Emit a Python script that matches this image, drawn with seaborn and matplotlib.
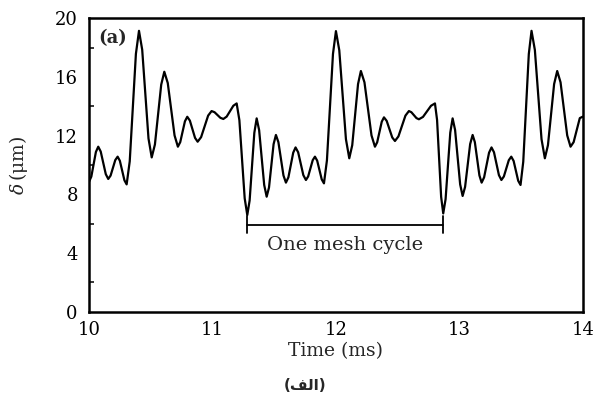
import matplotlib
matplotlib.use("Agg")
import matplotlib.pyplot as plt
from matplotlib.ticker import MultipleLocator
import seaborn as sns
import pandas as pd

# Values (time in ms, deflection in um)
time_ms = [10.000, 10.019, 10.056, 10.075, 10.095, 10.136, 10.156, 10.175, 10.213,
           10.232, 10.250, 10.287, 10.305, 10.330, 10.380, 10.405, 10.431, 10.482,
           10.508, 10.534, 10.585, 10.610, 10.638, 10.693, 10.720, 10.739, 10.777,
           10.796, 10.817, 10.859, 10.880, 10.908, 10.965, 10.993, 11.017, 11.064,
           11.088, 11.115, 11.169, 11.196, 11.218, 11.261, 11.282, 11.301, 11.339,
           11.358, 11.378, 11.419, 11.439, 11.458, 11.495, 11.514, 11.534, 11.575,
           11.595, 11.615, 11.654, 11.673, 11.694, 11.736, 11.757, 11.775, 11.812,
           11.830, 11.848, 11.885, 11.903, 11.927, 11.976, 12.000, 12.027, 12.081,
           12.108, 12.132, 12.179, 12.202, 12.231, 12.288, 12.316, 12.334, 12.371,
           12.389, 12.411, 12.456, 12.478, 12.506, 12.563, 12.591, 12.611, 12.652,
           12.672, 12.705, 12.770, 12.802, 12.819, 12.852, 12.869, 12.888, 12.926,
           12.945, 12.965, 13.006, 13.026, 13.046, 13.087, 13.107, 13.125, 13.162,
           13.180, 13.200, 13.240, 13.260, 13.280, 13.320, 13.340, 13.360, 13.400,
           13.420, 13.439, 13.476, 13.495, 13.517, 13.562, 13.584, 13.611, 13.665,
           13.692, 13.717, 13.767, 13.792, 13.819, 13.873, 13.900, 13.925, 13.975,
           14.000]
delta_um = [8.85, 9.21, 10.89, 11.25, 10.92, 9.38, 9.05, 9.28, 10.34,
            10.57, 10.29, 8.96, 8.68, 10.25, 17.58, 19.15, 17.86, 11.81,
            10.52, 11.40, 15.48, 16.36, 15.59, 12.02, 11.25, 11.56, 12.98,
            13.29, 13.03, 11.85, 11.59, 11.90, 13.37, 13.68, 13.60, 13.22,
            13.14, 13.30, 14.04, 14.20, 13.06, 7.73, 6.59, 7.58, 12.19,
            13.18, 12.38, 8.64, 7.84, 8.47, 11.42, 12.05, 11.56, 9.29,
            8.80, 9.16, 10.84, 11.20, 10.87, 9.31, 8.98, 9.22, 10.33,
            10.57, 10.30, 9.02, 8.75, 10.31, 17.57, 19.13, 17.83, 11.76,
            10.46, 11.35, 15.52, 16.41, 15.64, 12.02, 11.25, 11.55, 12.95,
            13.25, 13.01, 11.88, 11.64, 11.95, 13.37, 13.68, 13.60, 13.20,
            13.12, 13.28, 14.04, 14.20, 13.08, 7.83, 6.70, 7.67, 12.21,
            13.18, 12.39, 8.68, 7.89, 8.51, 11.43, 12.05, 11.56, 9.29,
            8.80, 9.16, 10.84, 11.20, 10.87, 9.31, 8.98, 9.22, 10.33,
            10.57, 10.28, 8.93, 8.64, 10.22, 17.57, 19.15, 17.85, 11.76,
            10.46, 11.35, 15.52, 16.41, 15.64, 12.02, 11.25, 11.56, 13.20,
            13.30]

cycle_start = 11.282
cycle_end = 12.869
cycle_label = "One mesh cycle"
panel_label = "(a)"
x_ticks = [10, 11, 12, 13, 14]
y_ticks = [0, 4, 8, 12, 16, 20]

sns.set_theme(style="white")
plt.rcParams['font.family'] = ['DejaVu Serif', 'DejaVu Sans']
plt.rcParams['mathtext.fontset'] = 'dejavuserif'

df = pd.DataFrame({"t": time_ms, "d": delta_um})

fig = plt.figure(figsize=(5.96, 3.99), dpi=100)
ax = fig.add_axes([0.1493, 0.2188, 0.8287, 0.7352])
sns.lineplot(data=df, x="t", y="d", ax=ax, color="black", linewidth=1.6)

ax.set_xlim(10, 14)
ax.set_ylim(0, 20)
ax.set_xticks(x_ticks)
ax.set_yticks(y_ticks)
ax.yaxis.set_minor_locator(MultipleLocator(2))
ax.tick_params(axis='both', which='major', direction='in', width=1.3,
               labelsize=13, colors='black', top=False, right=False)
ax.tick_params(axis='x', which='major', length=6, pad=7)
ax.tick_params(axis='y', which='major', length=7, pad=8)
ax.tick_params(axis='y', which='minor', direction='in', length=3.6, width=1.3, left=True)
for s in ax.spines.values():
    s.set_color('black')
    s.set_linewidth(1.8)
    s.set_visible(True)

ax.set_xlabel("Time (ms)", fontsize=13.5)
ax.xaxis.set_label_coords(0.5, -0.105)
ax.set_ylabel(r"$\delta\,$(μm)", fontsize=13.5)
ax.yaxis.set_label_coords(-0.12, 0.5)

# panel label
ax.text(10.073, 18.66, panel_label, fontsize=13, fontweight='bold', va='center', ha='left')

# mesh cycle bracket
ybr = 5.9
ax.plot([cycle_start, cycle_end], [ybr, ybr], color='black', lw=1.3)
ax.plot([cycle_start, cycle_start], [ybr - 0.55, 6.5], color='black', lw=1.3)
ax.plot([cycle_end, cycle_end], [ybr - 0.55, 6.5], color='black', lw=1.3)
ax.text((cycle_start + cycle_end) / 2, 4.55, cycle_label, fontsize=14,
        ha='center', va='center')

# Persian caption (presentation forms so it displays in correct order)
fig.text(305 / 596, 1 - 385 / 399, "(\uFED2\uFEDF\uFE8D)", fontsize=11,
         fontweight='bold', family=['DejaVu Sans'], ha='center', va='center')

fig.savefig("out.png", dpi=100)
